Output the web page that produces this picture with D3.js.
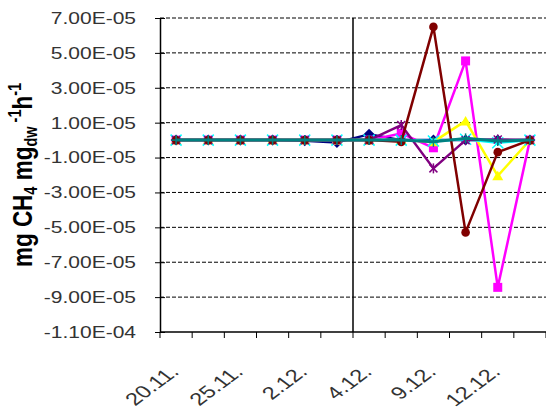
<!DOCTYPE html>
<html>
<head>
<meta charset="utf-8">
<script src="https://cdn.jsdelivr.net/npm/d3@7"></script>
<style>
  body { margin: 0; background: #fff; }
  svg { display: block; }
</style>
</head>
<body>
<script>
// sampling dates shown on the axis (label on every second sample)
const xLabels = ["20.11.", "25.11.", "2.12.", "4.12.", "9.12.", "12.12."];
const labelEvery = 2;
const dividerAfter = 5; // vertical line after the 6th sample

const yTicks = [-1.1e-4, -9e-5, -7e-5, -5e-5, -3e-5, -1e-5, 1e-5, 3e-5, 5e-5, 7e-5];

// one array per treatment, 12 samples each
const navySeries    = [0, 0, 0, 0, -0.3e-6, -1.3e-6, 3.3e-6, 0, 0, 0, 0, 0];
const magentaSeries = [0, 0, 0, 0, 0, 0, 0, 3.8e-6, -4.4e-6, 4.54e-5, -8.44e-5, 0];
const yellowSeries  = [0, 0, 0, 0, 0, 0, 0, 0, -1e-6, 1.1e-5, -2.05e-5, 0];
const cyanSeries    = [0, 0, 0, 0, 0, 0, 0, 0, -0.5e-6, 0.5e-6, -1.5e-6, 0];
const purpleSeries  = [0, 0, 0, 0, 0, 0, 0, 8.6e-6, -1.62e-5, 0, 0.3e-6, 0];
const redSeries     = [0, 0, 0, 0, 0, 0, 0, -1e-6, 6.49e-5, -5.29e-5, -6.9e-6, 0];
const tealSeries    = [0, 0, 0, 0, 0, 0, 0, 0, -1e-6, 1e-6, -0.5e-6, 0];

const series = [
  { values: navySeries,    color: "#000080", marker: "diamond" },
  { values: magentaSeries, color: "#FF00FF", marker: "square" },
  { values: yellowSeries,  color: "#FFFF00", marker: "triangle" },
  { values: cyanSeries,    color: "#00FFFF", marker: "x" },
  { values: purpleSeries,  color: "#800080", marker: "star" },
  { values: redSeries,     color: "#800000", marker: "circle" },
  { values: tealSeries,    color: "#008080", marker: "plus" }
];

const W = 546, H = 414;
const plotL = 160, plotR = 546, plotT = 18, plotB = 332;
const stretch = 1.25; // the original is widened horizontally
const font = "Arial, 'Liberation Sans', sans-serif";

const nSamples = navySeries.length;
const x = d3.scaleBand().domain(d3.range(nSamples)).range([plotL, plotR]).padding(0);
const y = d3.scaleLinear().domain([-1.1e-4, 7e-5]).range([plotB, plotT]);
const cx = i => x(i) + x.bandwidth() / 2;

function fmtE(v) {
  const [m, e] = v.toExponential(2).toUpperCase().split("E");
  const sign = e[0] === "-" ? "-" : "+";
  const digits = e.replace(/[+-]/, "").padStart(2, "0");
  return m + "E" + sign + digits;
}

const svg = d3.select("body").append("svg")
  .attr("width", W)
  .attr("height", H)
  .style("font-family", font);

// gridlines
svg.append("g")
  .selectAll("line")
  .data(yTicks.slice(1))
  .join("line")
  .attr("x1", plotL).attr("x2", plotR)
  .attr("y1", d => y(d)).attr("y2", d => y(d))
  .attr("stroke", "#000")
  .attr("stroke-width", 1)
  .attr("stroke-dasharray", "4,2");

// y axis
const yAxis = svg.append("g")
  .attr("transform", `translate(${plotL},0)`)
  .call(d3.axisLeft(y).tickValues(yTicks).tickSize(5).tickSizeOuter(0).tickFormat(fmtE));
yAxis.select(".domain").attr("stroke", "#000").attr("stroke-width", 1.5);
yAxis.selectAll(".tick line").attr("x2", -5).attr("x1", 5).attr("stroke", "#000");
yAxis.selectAll(".tick text")
  .attr("x", null)
  .attr("transform", `translate(-24,0) scale(${stretch},1)`)
  .attr("font-size", 16.8)
  .attr("font-family", font)
  .attr("fill", "#333");

// x axis
svg.append("line")
  .attr("x1", plotL).attr("x2", plotR)
  .attr("y1", plotB).attr("y2", plotB)
  .attr("stroke", "#000").attr("stroke-width", 1.5);
svg.append("g")
  .selectAll("line")
  .data(d3.range(nSamples + 1))
  .join("line")
  .attr("x1", i => i < nSamples ? x(i) : plotR)
  .attr("x2", i => i < nSamples ? x(i) : plotR)
  .attr("y1", plotB).attr("y2", plotB + 6)
  .attr("stroke", "#000");

svg.append("g")
  .selectAll("text")
  .data(xLabels)
  .join("text")
  .attr("transform", (d, i) => `translate(${cx(i * labelEvery) + 4},373) scale(1.35,1) rotate(-45)`)
  .attr("text-anchor", "end")
  .attr("font-size", 17.5)
  .attr("fill", "#333")
  .text(d => d);

// divider
svg.append("line")
  .attr("x1", x(dividerAfter + 1)).attr("x2", x(dividerAfter + 1))
  .attr("y1", plotT).attr("y2", plotB)
  .attr("stroke", "#000").attr("stroke-width", 1.5);

// y title
const title = svg.append("text")
  .attr("transform", `translate(32,175) scale(${stretch},1) rotate(-90)`)
  .attr("text-anchor", "middle")
  .attr("font-size", 22.5)
  .attr("font-weight", "bold")
  .attr("fill", "#000");
title.append("tspan").text("mg CH");
title.append("tspan").attr("font-size", 14.5).attr("dy", 4).text("4");
title.append("tspan").attr("dy", -4).text(" mg");
title.append("tspan").attr("font-size", 14.5).attr("dy", 4).text("dw");
title.append("tspan").attr("font-size", 14.5).attr("dy", -13).text(" -1");
title.append("tspan").attr("dy", 9).text("h");
title.append("tspan").attr("font-size", 14.5).attr("dy", -9).text("-1");

// series
const line = d3.line().x((d, i) => cx(i)).y(d => y(d));

function drawMarker(g, type, color) {
  if (type === "diamond") {
    g.append("path").attr("d", "M0,-5.5L5.5,0L0,5.5L-5.5,0Z").attr("fill", color);
  } else if (type === "square") {
    g.append("rect").attr("x", -4.5).attr("y", -4.5).attr("width", 9).attr("height", 9).attr("fill", color);
  } else if (type === "triangle") {
    g.append("path").attr("d", "M0,-5L5.5,4.5L-5.5,4.5Z").attr("fill", color);
  } else if (type === "circle") {
    g.append("circle").attr("r", 4.3).attr("fill", color);
  } else {
    const segs = [];
    if (type === "x") segs.push([-5.5, -5.5, 5.5, 5.5], [-5.5, 5.5, 5.5, -5.5]);
    if (type === "star") segs.push([-4, -4, 4, 4], [-4, 4, 4, -4], [0, -5, 0, 5]);
    if (type === "plus") segs.push([-5, 0, 5, 0], [0, -5, 0, 5]);
    segs.forEach(p => g.append("line")
      .attr("x1", p[0]).attr("y1", p[1]).attr("x2", p[2]).attr("y2", p[3])
      .attr("stroke", color).attr("stroke-width", 1.5));
  }
}

series.forEach(sr => {
  const g = svg.append("g");
  g.append("path")
    .attr("d", line(sr.values))
    .attr("fill", "none")
    .attr("stroke", sr.color)
    .attr("stroke-width", sr.marker === "plus" ? 3 : 2.5)
    .attr("stroke-linejoin", "round");
  g.selectAll("g")
    .data(sr.values)
    .join("g")
    .attr("transform", (d, i) => `translate(${cx(i)},${y(d)})`)
    .each(function () { drawMarker(d3.select(this), sr.marker, sr.color); });
});
</script>
</body>
</html>
